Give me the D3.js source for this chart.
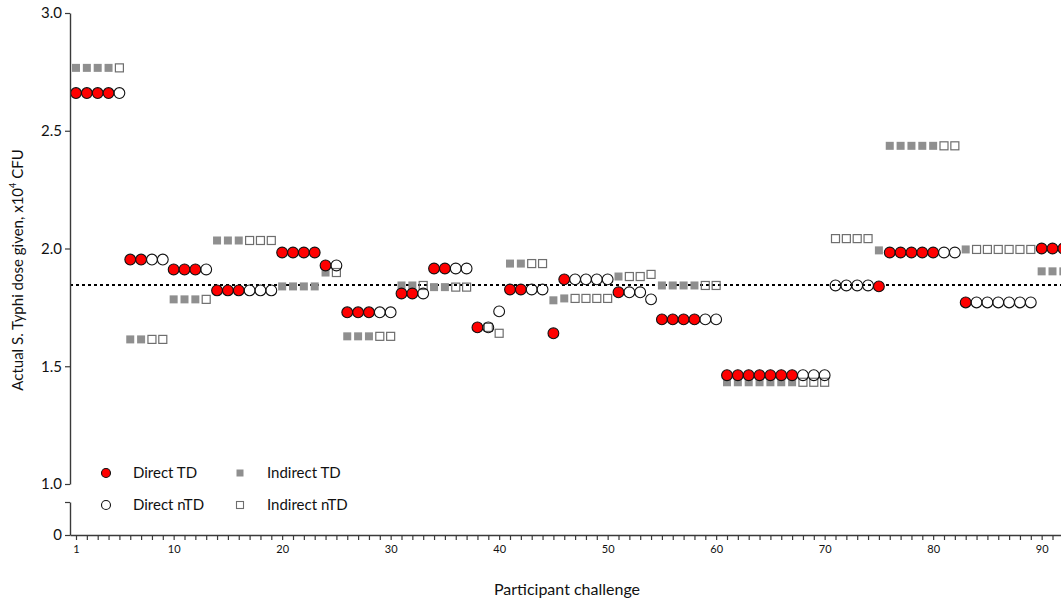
<!DOCTYPE html>
<html>
<head>
<meta charset="utf-8">
<script src="https://cdn.jsdelivr.net/npm/d3@7"></script>
<style>
  body { margin: 0; background: #fff; }
  svg { display: block; font-family: Lato, "Open Sans", sans-serif; }
</style>
</head>
<body>
<svg id="chart" width="1061" height="603"></svg>
<script>
// ---- data ----
const participants = d3.range(1, 93);
const directDose = [
  2.660, 2.660, 2.660, 2.660, 2.660,
  1.953, 1.953, 1.953, 1.953,
  1.911, 1.911, 1.911, 1.911,
  1.822, 1.822, 1.822, 1.822, 1.822, 1.822,
  1.983, 1.983, 1.983, 1.983,
  1.928, 1.928,
  1.729, 1.729, 1.729, 1.729, 1.729,
  1.809, 1.809, 1.809,
  1.915, 1.915, 1.915, 1.915,
  1.665, 1.665, 1.733,
  1.826, 1.826, 1.826, 1.826,
  1.640,
  1.869, 1.869, 1.869, 1.869, 1.869,
  1.814, 1.814, 1.814, 1.784,
  1.699, 1.699, 1.699, 1.699, 1.699, 1.699,
  1.462, 1.462, 1.462, 1.462, 1.462, 1.462, 1.462, 1.462, 1.462, 1.462,
  1.843, 1.843, 1.843, 1.843, 1.839,
  1.983, 1.983, 1.983, 1.983, 1.983, 1.983, 1.983,
  1.771, 1.771, 1.771, 1.771, 1.771, 1.771, 1.771,
  2.000, 2.000, 2.000
];
const indirectDose = [
  2.767, 2.767, 2.767, 2.767, 2.767,
  1.614, 1.614, 1.614, 1.614,
  1.784, 1.784, 1.784, 1.784,
  2.034, 2.034, 2.034, 2.034, 2.034, 2.034,
  1.839, 1.839, 1.839, 1.839,
  1.898, 1.898,
  1.627, 1.627, 1.627, 1.627, 1.627,
  1.843, 1.843, 1.843,
  1.836, 1.836, 1.836, 1.836,
  1.665, 1.665, 1.640,
  1.936, 1.936, 1.936, 1.936,
  1.780,
  1.788, 1.788, 1.788, 1.788, 1.788,
  1.881, 1.881, 1.881, 1.890,
  1.843, 1.843, 1.843, 1.843, 1.843, 1.843,
  1.432, 1.432, 1.432, 1.432, 1.432, 1.432, 1.432, 1.432, 1.432, 1.432,
  2.042, 2.042, 2.042, 2.042, 1.992,
  2.436, 2.436, 2.436, 2.436, 2.436, 2.436, 2.436,
  1.996, 1.996, 1.996, 1.996, 1.996, 1.996, 1.996,
  1.903, 1.903, 1.903
];
const tdParticipants = [1,2,3,4, 6,7, 10,11,12, 14,15,16, 20,21,22,23, 24,
  26,27,28, 31,32, 34,35, 38, 41,42, 45, 46, 51, 55,56,57,58,
  61,62,63,64,65,66,67, 75, 76,77,78,79,80, 83, 90,91,92];
const referenceDose = 1.845;
const xTickLabels = [1, 10, 20, 30, 40, 50, 60, 70, 80, 90];
const yTicks = [1.0, 1.5, 2.0, 2.5, 3.0];
const legendItems = [
  { label: "Direct TD", shape: "circle", td: true },
  { label: "Indirect TD", shape: "square", td: true },
  { label: "Direct nTD", shape: "circle", td: false },
  { label: "Indirect nTD", shape: "square", td: false }
];

// ---- drawing ----
const svg = d3.select("#chart");
const axisColor = "#3a3a3a";
const red = "#ff0000";
const gray = "#8f8f8f";
const openGray = "#6e6e6e";

const x = d3.scaleLinear().domain([0.447, 92]).range([70, 70 + 91.553 * 10.85]);
const y = d3.scaleLinear().domain([1, 3]).range([484, 13]);
const yLow = d3.scaleLinear().domain([0, 0.14]).range([535, 502]);

const rows = participants.map((p, i) => ({
  p, direct: directDose[i], indirect: indirectDose[i], td: tdParticipants.includes(p)
}));

// reference dotted line
svg.append("line")
  .attr("x1", 70).attr("x2", 1061)
  .attr("y1", y(referenceDose)).attr("y2", y(referenceDose))
  .attr("stroke", "#000").attr("stroke-width", 2)
  .attr("stroke-dasharray", "3,3");

// indirect squares
const sq = 8;
svg.append("g").selectAll("rect").data(rows).join("rect")
  .attr("x", d => x(d.p) - sq / 2)
  .attr("y", d => y(d.indirect) - sq / 2)
  .attr("width", sq).attr("height", sq)
  .attr("fill", d => d.td ? gray : "none")
  .attr("stroke", d => d.td ? "none" : openGray)
  .attr("stroke-width", 1.2);

// direct circles
svg.append("g").selectAll("circle").data(rows).join("circle")
  .attr("cx", d => x(d.p))
  .attr("cy", d => y(d.direct))
  .attr("r", 5.4)
  .attr("fill", d => d.td ? red : "none")
  .attr("stroke", "#111")
  .attr("stroke-width", 1.1);

// y axis (upper)
const yAxis = svg.append("g")
  .attr("transform", "translate(70,0)")
  .call(d3.axisLeft(y).tickValues(yTicks).tickFormat(d3.format(".1f")).tickSize(5).tickSizeOuter(0).tickPadding(3));
// y axis (lower, broken)
const yAxisLow = svg.append("g")
  .attr("transform", "translate(70,0)")
  .call(d3.axisLeft(yLow).tickValues([0, 0.14]).tickFormat(d => d === 0 ? "0" : "").tickSize(5).tickSizeOuter(0).tickPadding(3));

// x axis
const xAxis = svg.append("g")
  .attr("transform", "translate(0,535)")
  .call(d3.axisBottom(x).tickValues(participants)
    .tickFormat(d => xTickLabels.includes(d) ? d : "")
    .tickSize(5).tickSizeOuter(0).tickPadding(5));

[yAxis, yAxisLow, xAxis].forEach(g => {
  g.selectAll(".domain").attr("stroke", axisColor).attr("stroke-width", 1.4);
  g.selectAll(".tick line").attr("stroke", axisColor).attr("stroke-width", 1.2);
  g.selectAll(".tick text").attr("fill", "#111").style("font-family", "Lato, sans-serif");
});
yAxis.selectAll(".tick text").style("font-size", "15px");
yAxisLow.selectAll(".tick text").style("font-size", "15px");
xAxis.selectAll(".tick text").style("font-size", "11px");

// axis titles
const yTitle = svg.append("text")
  .attr("transform", "translate(23,270) rotate(-90)")
  .attr("text-anchor", "middle")
  .style("font-size", "15px").attr("fill", "#111");
yTitle.append("tspan").text("Actual S. Typhi dose given, x10");
yTitle.append("tspan").attr("dy", -7).style("font-size", "9px").text("4");
yTitle.append("tspan").attr("dy", 7).text(" CFU");

svg.append("text")
  .attr("x", 567).attr("y", 595)
  .attr("text-anchor", "middle")
  .style("font-size", "16px").attr("fill", "#111")
  .text("Participant challenge");

// legend
const legendPos = [[106, 473], [240, 473], [106, 505], [240, 505]];
legendItems.forEach((item, i) => {
  const [lx, ly] = legendPos[i];
  if (item.shape === "circle") {
    svg.append("circle").attr("cx", lx).attr("cy", ly).attr("r", 4.5)
      .attr("fill", item.td ? red : "none").attr("stroke", "#111").attr("stroke-width", 1.1);
  } else {
    svg.append("rect").attr("x", lx - 3.5).attr("y", ly - 3.5).attr("width", 7).attr("height", 7)
      .attr("fill", item.td ? gray : "none").attr("stroke", item.td ? "none" : openGray).attr("stroke-width", 1.1);
  }
  svg.append("text").attr("x", lx + 27).attr("y", ly + 5)
    .style("font-size", "15px").attr("fill", "#111").text(item.label);
});
</script>
</body>
</html>
